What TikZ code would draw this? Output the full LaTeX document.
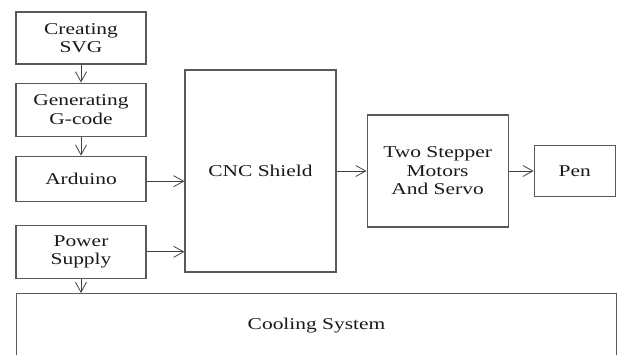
\documentclass[tikz,border=0pt]{standalone}
\usepackage{fontspec}
\setmainfont{Liberation Serif}[FakeStretch=1.3]
\usetikzlibrary{arrows.meta, positioning}

\begin{document}
\begin{tikzpicture}[
    x=1pt, y=-1pt,
    node distance=18pt and 30pt,
    block/.style={rectangle, draw=black!65, line width=1.1pt, minimum width=130pt, align=center, inner sep=0pt, text=black!90, font=\fontsize{16.5}{18.5}\selectfont},
    arrow/.style={-{Straight Barb[length=10pt, width=11pt]}, color=black!75, line width=0.8pt},
]
\useasboundingbox (0,0) rectangle (618,354);
\clip (0,0) rectangle (618,354);

\node[block, minimum height=52pt] (svg) at (81,38) {Creating\\SVG};
\node[block, minimum height=53pt, below=of svg] (gcode) {Generating\\G-code};
\node[block, minimum height=45pt, below=19pt of gcode] (arduino) {Arduino};
\node[block, minimum height=53pt, below=23pt of arduino] (power) {Power\\Supply};

\node[block, minimum width=151pt, minimum height=202pt] (cnc) at (260.5,171) {CNC Shield};
\node[block, minimum width=141pt, minimum height=112pt, right=of cnc] (motors) {Two Stepper\\Motors\\And Servo};
\node[block, minimum width=81pt, minimum height=51pt, right=25pt of motors] (pen) {Pen};

\node[block, minimum width=600pt, minimum height=64pt, anchor=north west] (cooling) at (16,293) {Cooling System};

\draw[arrow] (svg) -- (gcode);
\draw[arrow] (gcode) -- (arduino);
\draw[arrow] ([yshift=-2.5pt]arduino.east) -- ([yshift=-2.5pt]arduino.east -| cnc.west);
\draw[arrow] (power.east) -- (power.east -| cnc.west);
\draw[arrow] (cnc) -- (motors);
\draw[arrow] (motors) -- (pen);
\draw[arrow] (power.south) -- (power.south |- cooling.north);

\end{tikzpicture}
\end{document}
